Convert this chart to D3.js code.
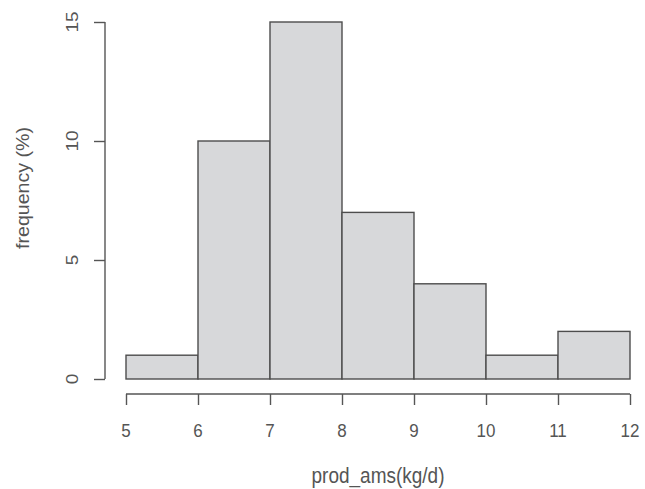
<!DOCTYPE html>
<html>
<head>
<meta charset="utf-8">
<script src="https://cdn.jsdelivr.net/npm/d3@7"></script>
<style>
html,body{margin:0;padding:0;background:#fff;}
svg{display:block;}
text{font-family:"Liberation Sans",Arial,sans-serif;fill:#555;}
</style>
</head>
<body>
<svg id="chart" width="645" height="489"></svg>
<script>
const binStarts = [5, 6, 7, 8, 9, 10, 11];
const binEnds   = [6, 7, 8, 9, 10, 11, 12];
const frequency = [1, 10, 15, 7, 4, 1, 2];
const xTicks = [5, 6, 7, 8, 9, 10, 11, 12];
const yTicks = [0, 5, 10, 15];
const xTitle = "prod_ams(kg/d)";
const yTitle = "frequency (%)";

const svg = d3.select("#chart");
const sy = 1.12;
const x = d3.scaleLinear().domain([5, 12]).range([126, 630]);
const y = d3.scaleLinear().domain([0, 15]).range([379, 22]);

svg.append("rect").attr("width",645).attr("height",489).attr("fill","#fff");

// bars
svg.append("g").selectAll("rect")
  .data(frequency.map((v,i)=>({x0:binStarts[i],x1:binEnds[i],v})))
  .join("rect")
  .attr("x", d=>x(d.x0))
  .attr("y", d=>y(d.v))
  .attr("width", d=>x(d.x1)-x(d.x0))
  .attr("height", d=>y(0)-y(d.v))
  .attr("fill", "#d7d8da")
  .attr("stroke", "#4d4d4d")
  .attr("stroke-width", 1.4);

// x axis
const gx = svg.append("g").attr("transform","translate(0,394)")
  .call(d3.axisBottom(x).tickValues(xTicks).tickSize(11).tickSizeOuter(0).tickFormat(""));
gx.selectAll("path,line").attr("stroke","#555").attr("stroke-width",1.4);
gx.select(".domain").attr("d", `M${x(5)},0H${x(12)}`);

svg.append("g").selectAll("text").data(xTicks).join("text")
  .attr("transform", d=>`translate(${x(d)},437) scale(1,${sy})`)
  .attr("text-anchor","middle")
  .style("font-size","17px")
  .text(d=>d);

// y axis
const gy = svg.append("g").attr("transform","translate(105,0)")
  .call(d3.axisLeft(y).tickValues(yTicks).tickSize(11).tickSizeOuter(0).tickFormat(""));
gy.selectAll("path,line").attr("stroke","#555").attr("stroke-width",1.4);
gy.select(".domain").attr("d", `M0,${y(0)}V${y(15)}`);

svg.append("g").selectAll("text").data(yTicks).join("text")
  .attr("transform", d=>`translate(78,${y(d)}) scale(1,${sy}) rotate(-90)`)
  .attr("text-anchor","middle")
  .style("font-size","17px")
  .text(d=>d);

// titles
svg.append("text")
  .attr("transform", `translate(${(x(5)+x(12))/2},483) scale(1,${sy})`)
  .attr("text-anchor","middle")
  .style("font-size","19px")
  .text(xTitle);

svg.append("text")
  .attr("transform", `translate(29,188) scale(1,${sy}) rotate(-90)`)
  .attr("text-anchor","middle")
  .style("font-size","17.5px")
  .text(yTitle);
</script>
</body>
</html>
